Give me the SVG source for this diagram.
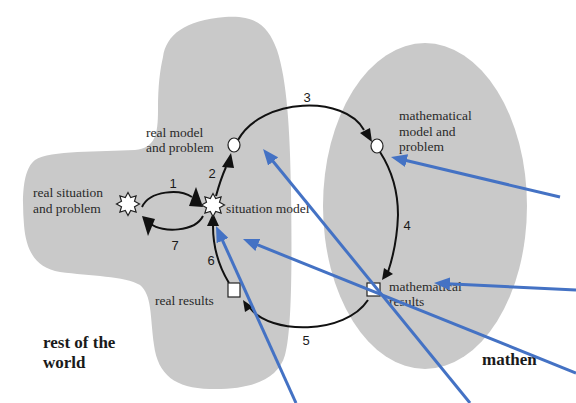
<svg xmlns="http://www.w3.org/2000/svg" width="576" height="403" viewBox="0 0 576 403">
<style>
.region{fill:#c9c9c9;stroke:none}
.lbl{font-family:"Liberation Serif","Times New Roman",serif;font-size:13.5px;fill:#2a2a2a}
.big{font-family:"Liberation Serif","Times New Roman",serif;font-size:17px;font-weight:bold;fill:#1a1a1a}
.num{font-family:"Liberation Sans",Arial,sans-serif;font-size:13px;fill:#1a1a1a}
.flow{fill:none;stroke:#111;stroke-width:2}
.head{fill:#111;stroke:none}
.mark{fill:#fff;stroke:#222;stroke-width:1.2}
.ptr{fill:none;stroke:#4472c4;stroke-width:3}
</style>
<defs>
<polygon id="star" points="0,-11.5 2.7,-6.5 8.1,-8.1 6.5,-2.7 11.5,0 6.5,2.7 8.1,8.1 2.7,6.5 0,11.5 -2.7,6.5 -8.1,8.1 -6.5,2.7 -11.5,0 -6.5,-2.7 -8.1,-8.1 -2.7,-6.5"/>
<marker id="blueHead" markerUnits="userSpaceOnUse" markerWidth="16" markerHeight="13" viewBox="0 0 16 13" refX="8" refY="6.5" orient="auto">
<path d="M0,0 L16,6.5 L0,13 Z" fill="#4472c4"/>
</marker>
</defs>

<g id="regions">
<path id="rest-of-world-region" class="region" d="M163,57 C166,35 185,20 225,17 C255,15 268,25 277,50 C287,80 290,130 291,190 C292,260 292,330 285,355 C278,380 250,390 210,389 C175,388 158,375 154,345 C150,315 152,295 140,285 C125,276 90,276 60,272 C35,268 26,250 24,225 C22,200 22,170 35,160 C50,150 100,152 135,150 C155,148 158,135 158,110 C158,85 160,70 163,57 Z"/>
<ellipse id="math-region" class="region" cx="425" cy="206" rx="102" ry="163"/>
</g>

<g id="connectors">
<path class="flow" d="M142,207 C150,190 180,189 192,197"/>
<polygon class="head" points="196,187 189,206 203,207"/>
<path class="flow" d="M203,216 C195,232 162,233 151,224"/>
<polygon class="head" points="142,216 155,219 148,236"/>
<path class="flow" d="M216,196 C219,185 222,176 226,167"/>
<polygon class="head" points="231,153 222,167 234,168"/>
<path class="flow" d="M238,140 C262,97 345,95 364,130"/>
<polygon class="head" points="372,142 360,133 370,128"/>
<path class="flow" d="M380,152 Q398,180 398,215 Q397,245 388,272"/>
<polygon class="head" points="382,280 384,268 393,274"/>
<path class="flow" d="M368,300 C345,335 270,335 250,308"/>
<polygon class="head" points="243,300 253,307 245,312"/>
<path class="flow" d="M229,283 C218,265 213,245 213,226"/>
<polygon class="head" points="213,213 207,226 219,226"/>
<text class="num" x="173" y="188" text-anchor="middle">1</text>
<text class="num" x="212" y="178" text-anchor="middle">2</text>
<text class="num" x="307" y="102" text-anchor="middle">3</text>
<text class="num" x="407" y="230" text-anchor="middle">4</text>
<text class="num" x="306" y="345" text-anchor="middle">5</text>
<text class="num" x="211" y="265" text-anchor="middle">6</text>
<text class="num" x="175" y="250" text-anchor="middle">7</text>
</g>

<g id="real-situation">
<use href="#star" class="mark" x="128" y="204"/>
<text class="lbl" x="33" y="197">real situation</text>
<text class="lbl" x="33" y="213">and problem</text>
</g>
<g id="situation-model">
<use href="#star" class="mark" x="213" y="205"/>
<text class="lbl" x="226" y="213">situation model</text>
</g>
<g id="real-model">
<ellipse class="mark" cx="234" cy="145" rx="6" ry="7"/>
<text class="lbl" x="146" y="137">real model</text>
<text class="lbl" x="146" y="152">and problem</text>
</g>
<g id="math-model">
<ellipse class="mark" cx="377" cy="146" rx="6" ry="7"/>
<text class="lbl" x="399" y="120">mathematical</text>
<text class="lbl" x="399" y="136">model and</text>
<text class="lbl" x="399" y="151">problem</text>
</g>
<g id="math-results">
<rect class="mark" x="367" y="283" width="13" height="13"/>
<text class="lbl" x="389" y="291">mathematical</text>
<text class="lbl" x="389" y="306">results</text>
</g>
<g id="real-results">
<rect class="mark" x="228" y="283" width="12" height="14"/>
<text class="lbl" x="155" y="305">real results</text>
</g>
<g id="rest-of-world-label">
<text class="big" x="43" y="348">rest of the</text>
<text class="big" x="43" y="368">world</text>
</g>
<g id="math-label">
<text class="big" x="482" y="365">mathen</text>
</g>

<g id="pointer-arrows">
<line class="ptr" x1="296" y1="403" x2="219.3" y2="233.3" marker-end="url(#blueHead)"/>
<line class="ptr" x1="470" y1="403" x2="268.1" y2="155.2" marker-end="url(#blueHead)"/>
<line class="ptr" x1="560" y1="197" x2="398.8" y2="158.8" marker-end="url(#blueHead)"/>
<line class="ptr" x1="576" y1="290" x2="442" y2="283.4" marker-end="url(#blueHead)"/>
<line class="ptr" x1="576" y1="373" x2="250.4" y2="242" marker-end="url(#blueHead)"/>
</g>
</svg>
